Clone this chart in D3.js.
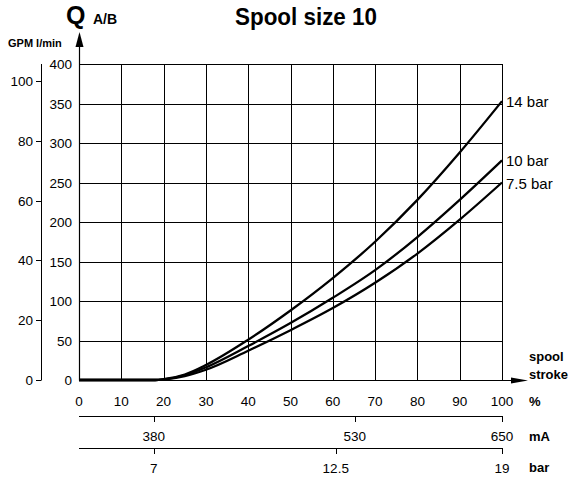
<!DOCTYPE html>
<html>
<head>
<meta charset="utf-8">
<script src="https://cdn.jsdelivr.net/npm/d3@7"></script>
<style>
  body { margin: 0; background: #fff; }
  svg { display: block; font-family: "Liberation Sans", Arial, sans-serif; }
  .grid line { stroke: #000; stroke-width: 1; shape-rendering: crispEdges; }
  .curve { fill: none; stroke: #000; stroke-width: 2.3; }
  .lbl { font-size: 13.5px; fill: #000; }
  .unit { font-size: 13px; font-weight: bold; fill: #000; }
</style>
</head>
<body>
<svg width="574" height="479"></svg>
<script>
// spool stroke in %
var stroke = [0, 10, 18, 20, 25, 30, 40, 50, 60, 70, 80, 90, 100];
// flow Q A/B in l/min per pressure drop
var q14 = [0, 0, 0, 1, 7, 19, 51, 88, 129, 175, 228, 288, 353];
var q10 = [0, 0, 0, 0.8, 6, 16, 43, 72, 104, 139, 181, 228, 278];
var q75 = [0, 0, 0, 0.6, 5, 13, 37, 63, 91, 123, 160, 203, 250];
var seriesNames = ["14 bar", "10 bar", "7.5 bar"];

var xTicks = [0, 10, 20, 30, 40, 50, 60, 70, 80, 90, 100];
var yTicks = [0, 50, 100, 150, 200, 250, 300, 350, 400];
var gpmTicks = [0, 20, 40, 60, 80, 100];
// secondary scales: current (mA) and pilot pressure (bar) vs stroke %
var mATicks = [380, 530, 650];
var mAStroke = [17.7, 65.2, 100];
var barTicks = [7, 12.5, 19];
var barStroke = [17.7, 60.7, 100];

var svg = d3.select("svg");
var pLeft = 79, pRight = 502, pTop = 64, pBottom = 380;

var x = d3.scaleLinear().domain([0, 100]).range([pLeft, pRight]);
var y = d3.scaleLinear().domain([0, 400]).range([pBottom, pTop]);
var yGpm = d3.scaleLinear().domain([0, 400 / 3.785]).range([pBottom, pTop]);
var xmA = d3.scaleLinear().domain(mATicks).range(mAStroke.map(x));
var xBar = d3.scaleLinear().domain(barTicks).range(barStroke.map(x));

// grid
var grid = svg.append("g").attr("class", "grid");
grid.selectAll(".v").data(xTicks.slice(1)).enter().append("line")
    .attr("x1", function (d) { return Math.round(x(d)) + 0.5; })
    .attr("x2", function (d) { return Math.round(x(d)) + 0.5; })
    .attr("y1", pTop).attr("y2", pBottom);
grid.selectAll(".h").data(yTicks.slice(1)).enter().append("line")
    .attr("y1", function (d) { return Math.round(y(d)) + 0.5; })
    .attr("y2", function (d) { return Math.round(y(d)) + 0.5; })
    .attr("x1", pLeft).attr("x2", pRight);

// main axes with arrows
svg.append("line").attr("x1", pLeft + 0.5).attr("x2", pLeft + 0.5)
    .attr("y1", pBottom + 0.5).attr("y2", 44).attr("stroke", "#000").attr("stroke-width", 1.2);
svg.append("path").attr("d", "M" + (pLeft + 0.5) + ",32 L" + (pLeft - 3.5) + ",47 L" + (pLeft + 4.5) + ",47 Z");
svg.append("line").attr("x1", pLeft).attr("x2", 515)
    .attr("y1", pBottom + 0.5).attr("y2", pBottom + 0.5).attr("stroke", "#000").attr("stroke-width", 1.2);
svg.append("path").attr("d", "M528," + (pBottom + 0.5) + " L511," + (pBottom - 2.5) + " L511," + (pBottom + 3.5) + " Z");

// l/min tick labels
svg.selectAll(".ylbl").data(yTicks).enter().append("text")
    .attr("class", "lbl").attr("text-anchor", "end")
    .attr("x", pLeft - 7).attr("y", function (d) { return y(d) + 5; })
    .text(function (d) { return d; });

// GPM axis
var gGpm = svg.append("g").attr("transform", "translate(41,0)");
gGpm.append("line").attr("x1", 0.5).attr("x2", 0.5).attr("y1", pTop).attr("y2", pBottom)
    .attr("stroke", "#000");
gGpm.selectAll(".t").data(gpmTicks).enter().append("line")
    .attr("x1", -5).attr("x2", 0.5)
    .attr("y1", function (d) { return Math.round(yGpm(d)) + 0.5; })
    .attr("y2", function (d) { return Math.round(yGpm(d)) + 0.5; })
    .attr("stroke", "#000");
gGpm.selectAll("text").data(gpmTicks).enter().append("text")
    .attr("class", "lbl").attr("text-anchor", "end")
    .attr("x", -8).attr("y", function (d) { return yGpm(d) + 5; })
    .text(function (d) { return d; });

// % tick labels
svg.selectAll(".xlbl").data(xTicks).enter().append("text")
    .attr("class", "lbl").attr("text-anchor", "middle")
    .attr("x", function (d) { return x(d); }).attr("y", 406)
    .text(function (d) { return d; });

// secondary scales
function subAxis(yy, scale, ticks) {
    var g = svg.append("g");
    g.append("line").attr("x1", pLeft).attr("x2", pRight + 0.5)
        .attr("y1", yy + 0.5).attr("y2", yy + 0.5).attr("stroke", "#000");
    g.selectAll("line.t").data(ticks).enter().append("line")
        .attr("x1", function (d) { return Math.round(scale(d)) + 0.5; })
        .attr("x2", function (d) { return Math.round(scale(d)) + 0.5; })
        .attr("y1", yy).attr("y2", yy + 6).attr("stroke", "#000");
    g.selectAll("text").data(ticks).enter().append("text")
        .attr("class", "lbl").attr("text-anchor", "middle")
        .attr("x", function (d) { return scale(d); }).attr("y", yy + 25)
        .text(function (d) { return d; });
}
subAxis(416, xmA, mATicks);
subAxis(448, xBar, barTicks);

// curves
var line = d3.line()
    .x(function (d) { return x(d[0]); })
    .y(function (d) { return y(d[1]); })
    .curve(d3.curveMonotoneX);
[q14, q10, q75].forEach(function (q, i) {
    svg.append("path").attr("class", "curve")
        .attr("d", line(stroke.map(function (s, j) { return [s, q[j]]; })));
    svg.append("text").attr("x", pRight + 4).attr("y", y(q[q.length - 1]) + 6)
        .attr("font-size", 15).text(seriesNames[i]);
});

// unit labels
svg.append("text").attr("class", "unit").attr("x", 529).attr("y", 361).text("spool");
svg.append("text").attr("class", "unit").attr("x", 529).attr("y", 379).text("stroke");
svg.append("text").attr("class", "unit").attr("x", 529).attr("y", 406).text("%");
svg.append("text").attr("class", "unit").attr("x", 529).attr("y", 441).text("mA");
svg.append("text").attr("class", "unit").attr("x", 529).attr("y", 472).text("bar");
svg.append("text").attr("font-size", 11).attr("font-weight", "bold")
    .attr("x", 8).attr("y", 47).text("GPM l/min");
svg.append("text").attr("font-size", 25).attr("font-weight", "bold")
    .attr("x", 66).attr("y", 24).text("Q");
svg.append("text").attr("font-size", 14).attr("font-weight", "bold")
    .attr("x", 93).attr("y", 24).text("A/B");
svg.append("text").attr("font-size", 23).attr("font-weight", "bold")
    .attr("x", 235).attr("y", 25)
    .attr("textLength", 142).attr("lengthAdjust", "spacingAndGlyphs")
    .text("Spool size 10");
</script>
</body>
</html>
